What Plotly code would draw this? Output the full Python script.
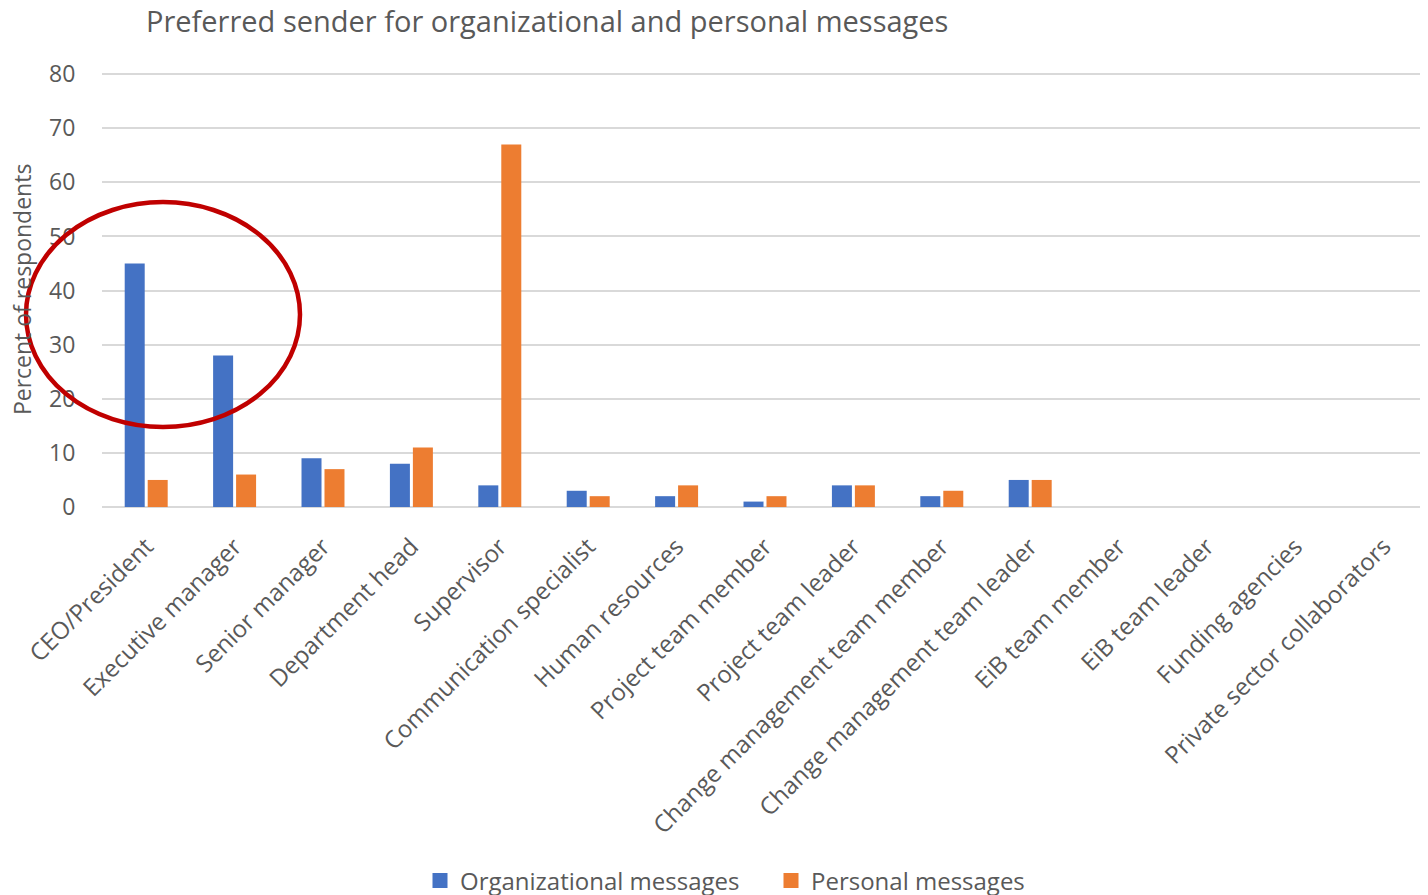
import plotly.graph_objects as go

categories = ["CEO/President", "Executive manager", "Senior manager", "Department head",
              "Supervisor", "Communication specialist", "Human resources",
              "Project team member", "Project team leader", "Change management team member",
              "Change management team leader", "EiB team member", "EiB team leader",
              "Funding agencies", "Private sector collaborators"]
organizational = [45, 28, 9, 8, 4, 3, 2, 1, 4, 2, 5, 0, 0, 0, 0]
personal = [5, 6, 7, 11, 67, 2, 4, 2, 4, 3, 5, 0, 0, 0, 0]
series_names = ["Organizational messages", "Personal messages"]
y_ticks = [0, 10, 20, 30, 40, 50, 60, 70, 80]

FONT = "Open Sans"
GREY = "#595959"
BLUE, ORANGE = "#4472C4", "#ED7D31"
OFF = 8  # page body margin
W, H = 1428 - OFF, 895 - OFF
# value 80 at page y 74, value 0 at page y 507; extend range a little so the top grid line shows
Y_MAX = 80.4
scale = (507 - 74) / 80.0
top_page = 74 - (Y_MAX - 80) * scale
L, T = 102 - OFF, top_page - OFF
R = 0
B = H - (507 - OFF)
PW = W - L - R
PH = H - T - B


def px(xp):
    return (xp - OFF - L) / PW


def py(yp):
    return (H - B - (yp - OFF)) / PH


fig = go.Figure()
for name, vals, col in [(series_names[0], organizational, BLUE), (series_names[1], personal, ORANGE)]:
    fig.add_trace(go.Bar(x=categories, y=vals, name=name, showlegend=False,
                         marker=dict(color=col, line=dict(width=0))))
# legend entries with larger square swatches
for name, col in [(series_names[0], BLUE), (series_names[1], ORANGE)]:
    fig.add_trace(go.Scatter(x=[None], y=[None], mode="markers", name=name,
                             marker=dict(symbol="square", size=15, color=col)))

fig.update_layout(
    width=W, height=H,
    margin=dict(l=L, r=R, t=T, b=B, autoexpand=False),
    paper_bgcolor="white", plot_bgcolor="white",
    barmode="group", bargap=0.48, bargroupgap=0.13,
    font=dict(family=FONT, color=GREY),
    title=dict(text="Preferred sender for organizational and personal messages",
               x=(146 - OFF) / W, xanchor="left", y=1 - (22 - OFF) / H, yanchor="middle",
               font=dict(size=29, color=GREY, family=FONT)),
    legend=dict(orientation="h", x=px(420), xanchor="left", y=py(881), yanchor="middle",
                font=dict(size=24, color=GREY), itemwidth=30, tracegroupgap=0,
                entrywidth=306, entrywidthmode="pixels"),
    showlegend=True,
)
fig.update_xaxes(tickangle=-45, tickfont=dict(size=24, color=GREY), showgrid=False,
                 showline=False, ticks="outside", ticklen=15, tickcolor="rgba(0,0,0,0)",
                 automargin=False)
fig.update_yaxes(range=[0, Y_MAX], tickvals=y_ticks, tickfont=dict(size=23, color=GREY),
                 gridcolor="#D9D9D9", gridwidth=1.5, zeroline=True, zerolinecolor="#D9D9D9",
                 zerolinewidth=1.5, showline=False, ticks="outside", ticklen=21,
                 tickcolor="rgba(0,0,0,0)", automargin=False)

fig.add_annotation(text="Percent of respondents", textangle=-90, xref="paper", yref="paper",
                   x=px(22), y=py(290), xanchor="center", yanchor="middle", showarrow=False,
                   font=dict(size=23, color=GREY))

fig.add_shape(type="circle", xref="paper", yref="paper",
              x0=px(26), x1=px(300), y0=py(427), y1=py(202),
              line=dict(color="#C00000", width=4.5), layer="above")

fig.write_html("out.html")
